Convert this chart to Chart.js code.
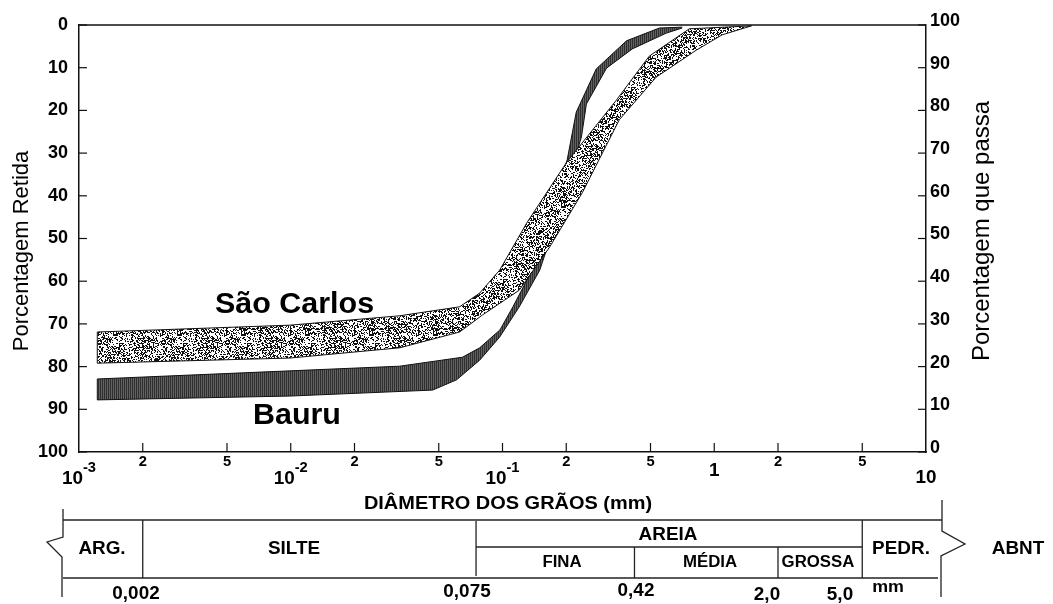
<!DOCTYPE html>
<html>
<head>
<meta charset="utf-8">
<script src="https://cdn.jsdelivr.net/npm/chart.js@4.4.0/dist/chart.umd.min.js"></script>
<style>
  body { margin: 0; background: #fff; }
  #wrap { width: 1053px; height: 604px; position: relative; }
</style>
</head>
<body>
<div id="wrap"><canvas id="chart"></canvas></div>
<script>
// faixas granulométricas: diâmetro (mm) x porcentagem que passa
const scUpperD = [0.00122, 0.00122, 0.0099, 0.0327, 0.0627, 0.078, 0.097, 0.130, 0.200, 0.345, 0.493, 0.762, 1.50];
const scUpperP = [20.8, 28.1, 29.7, 31.9, 34.0, 37.2, 42.6, 53.6, 67.7, 82.4, 92.7, 99.1, 99.8];
const scLowerD = [0.00122, 0.0099, 0.0327, 0.0627, 0.0805, 0.120, 0.167, 0.238, 0.356, 0.532, 0.822, 1.09, 1.50];
const scLowerP = [20.8, 22.0, 24.4, 28.1, 32.1, 37.9, 48.0, 60.7, 77.8, 87.8, 94.1, 97.7, 99.8];

const bauUpperD = [0.00122, 0.00122, 0.0099, 0.0327, 0.0647, 0.078, 0.0973, 0.112, 0.138, 0.150, 0.202, 0.223, 0.277, 0.385, 0.551, 0.706];
const bauUpperP = [12.2, 17.1, 19.0, 20.1, 22.2, 24.4, 28.6, 34.0, 42.6, 48.0, 68.4, 79.6, 89.7, 96.3, 99.3, 99.5];
const bauLowerD = [0.00122, 0.0099, 0.0468, 0.0607, 0.078, 0.0969, 0.120, 0.150, 0.163, 0.236, 0.249, 0.310, 0.410, 0.594, 0.706];
const bauLowerP = [12.2, 13.1, 14.5, 16.9, 21.5, 26.9, 34.0, 42.6, 48.0, 73.8, 81.5, 89.9, 94.4, 98.1, 99.3];

const majorTicks = [0.001, 0.01, 0.1, 1, 10];
const majorBase = ["10", "10", "10", "1", "10"];
const majorExp = ["-3", "-2", "-1", "", ""];
const minorTicks = [0.002, 0.005, 0.02, 0.05, 0.2, 0.5, 2, 5];
const minorLabels = ["2", "5", "2", "5", "2", "5", "2", "5"];

// limites ABNT (mm)
const limitsMm = [0.002, 0.075, 0.42, 2.0, 5.0];
const limitLabels = ["0,002", "0,075", "0,42", "2,0", "5,0"];

const FONT = '"Liberation Sans", Arial, Helvetica, sans-serif';

function pts(d, p) {
  return d.map((v, i) => ({ x: v, y: p[i] }));
}

// textura pontilhada (São Carlos) e hachura escura (Bauru)
function stipple() {
  const c = document.createElement('canvas');
  c.width = 64; c.height = 64;
  const g = c.getContext('2d');
  g.fillStyle = '#fff';
  g.fillRect(0, 0, 64, 64);
  g.fillStyle = '#111';
  let s = 12345;
  for (let i = 0; i < 64 * 64; i++) {
    s = (s * 1103515245 + 12345) & 0x7fffffff;
    if ((s >> 8) % 100 < 42) g.fillRect(i % 64, Math.floor(i / 64), 1, 1);
  }
  return g.createPattern(c, 'repeat');
}
function hatch() {
  const c = document.createElement('canvas');
  c.width = 2; c.height = 2;
  const g = c.getContext('2d');
  g.fillStyle = '#2e2e2e'; g.fillRect(0, 0, 2, 2);
  g.fillStyle = '#626262'; g.fillRect(1, 0, 1, 2);
  return g.createPattern(c, 'repeat');
}

function line(ctx, x1, y1, x2, y2) {
  ctx.beginPath(); ctx.moveTo(x1, y1); ctx.lineTo(x2, y2); ctx.stroke();
}
function poly(ctx, p) {
  ctx.beginPath(); ctx.moveTo(p[0][0], p[0][1]);
  for (let i = 1; i < p.length; i++) ctx.lineTo(p[i][0], p[i][1]);
  ctx.stroke();
}
// texto levemente alargado, como no original
function text(ctx, s, x, y, size, align, weight, stretch) {
  ctx.save();
  ctx.font = (weight || 'bold') + ' ' + size + 'px ' + FONT;
  ctx.textAlign = align || 'center';
  ctx.translate(x, y);
  ctx.scale(stretch || 1.05, 1);
  ctx.fillText(s, 0, 0);
  ctx.restore();
}

const extras = {
  id: 'extras',
  afterDraw(chart) {
    const { ctx, chartArea: a, scales } = chart;
    const sx = scales.x;
    ctx.save();
    ctx.strokeStyle = '#111';
    ctx.fillStyle = '#000';
    ctx.textBaseline = 'alphabetic';

    // topo da moldura
    ctx.lineWidth = 1.5;
    line(ctx, a.left, a.top, a.right, a.top);

    // marcas internas
    ctx.lineWidth = 1.2;
    scales.yRet.ticks.forEach(t => {
      const y = scales.yRet.getPixelForValue(t.value);
      line(ctx, a.left, y, a.left + 8, y);
    });
    scales.yPass.ticks.forEach(t => {
      const y = scales.yPass.getPixelForValue(t.value);
      line(ctx, a.right - 8, y, a.right, y);
    });
    majorTicks.slice(1, -1).concat(minorTicks).forEach(v => {
      const px = sx.getPixelForValue(v);
      line(ctx, px, a.bottom - 9, px, a.bottom);
    });

    // rótulos do eixo x
    majorTicks.forEach((v, i) => {
      const px = sx.getPixelForValue(v);
      if (majorExp[i]) {
        ctx.font = 'bold 18px ' + FONT;
        const wb = ctx.measureText(majorBase[i]).width * 1.05;
        ctx.font = 'bold 14px ' + FONT;
        const we = ctx.measureText(majorExp[i]).width * 1.05;
        const x0 = px - (wb + we) / 2;
        text(ctx, majorBase[i], x0, a.bottom + 32, 18, 'left');
        text(ctx, majorExp[i], x0 + wb, a.bottom + 20, 14, 'left');
      } else {
        text(ctx, majorBase[i], px, a.bottom + (v === 1 ? 24 : 31), 18, 'center');
      }
    });
    minorTicks.forEach((v, i) => {
      text(ctx, minorLabels[i], sx.getPixelForValue(v), a.bottom + 14, 14, 'center');
    });
    text(ctx, 'DIÂMETRO DOS GRÃOS (mm)', 508, 509, 19, 'center');

    // títulos dos eixos y
    ctx.save();
    ctx.translate(22, 251); ctx.rotate(-Math.PI / 2);
    ctx.textBaseline = 'middle';
    text(ctx, 'Porcentagem Retida', 0, 0, 22, 'center', 'normal', 1);
    ctx.restore();
    ctx.save();
    ctx.translate(982, 231); ctx.rotate(-Math.PI / 2);
    ctx.textBaseline = 'middle';
    text(ctx, 'Porcentagem que passa', 0, 0, 24, 'center', 'normal', 1);
    ctx.restore();

    // nomes das faixas
    text(ctx, 'São Carlos', 215, 313, 29, 'left');
    text(ctx, 'Bauru', 253, 424, 29, 'left');

    // quadro ABNT
    const L = limitsMm.map(v => sx.getPixelForValue(v));
    ctx.strokeStyle = '#222';
    ctx.lineWidth = 1.3;
    line(ctx, 63, 520, 942, 520);
    line(ctx, 63, 578, 938, 578);
    poly(ctx, [[63, 509], [63, 537], [47, 542], [62, 557], [62, 597]]);
    poly(ctx, [[942, 500], [942, 531], [965, 544], [941, 556], [941, 597]]);
    line(ctx, L[0], 520, L[0], 578);
    line(ctx, L[1], 521, L[1], 576);
    line(ctx, L[1], 547, L[4], 547);
    line(ctx, L[2], 547, L[2], 578);
    line(ctx, L[3], 547, L[3], 578);
    line(ctx, L[4], 520, L[4], 578);

    text(ctx, 'ARG.', 102, 554, 18, 'center');
    text(ctx, 'SILTE', 294, 554, 18, 'center');
    text(ctx, 'AREIA', 668, 540, 18, 'center');
    text(ctx, 'FINA', 562, 567, 16, 'center');
    text(ctx, 'MÉDIA', 710, 567, 16, 'center');
    text(ctx, 'GROSSA', 818, 567, 16, 'center');
    text(ctx, 'PEDR.', 901, 554, 18, 'center');
    text(ctx, 'ABNT', 1018, 554, 18, 'center');

    const lx = [136, 467, 636, 767, 840];
    const ly = [599, 597, 596, 600, 600];
    limitLabels.forEach((s, i) => text(ctx, s, lx[i], ly[i], 18, 'center'));
    text(ctx, 'mm', 888, 592, 17, 'center');

    ctx.restore();
  }
};

const tickFont = { family: FONT, size: 18, weight: 'bold' };
const edge = { display: true, color: '#111', width: 1.5 };

new Chart(document.getElementById('chart'), {
  type: 'line',
  data: {
    datasets: [
      { label: 'São Carlos sup', data: pts(scUpperD, scUpperP), yAxisID: 'yPass',
        borderColor: '#111', borderWidth: 1, pointRadius: 0, fill: false },
      { label: 'São Carlos inf', data: pts(scLowerD, scLowerP), yAxisID: 'yPass',
        borderColor: '#111', borderWidth: 1, pointRadius: 0, fill: '-1', backgroundColor: stipple() },
      { label: 'Bauru sup', data: pts(bauUpperD, bauUpperP), yAxisID: 'yPass',
        borderColor: '#111', borderWidth: 1, pointRadius: 0, fill: false },
      { label: 'Bauru inf', data: pts(bauLowerD, bauLowerP), yAxisID: 'yPass',
        borderColor: '#111', borderWidth: 1, pointRadius: 0, fill: '-1', backgroundColor: hatch() }
    ]
  },
  options: {
    responsive: true,
    maintainAspectRatio: false,
    animation: false,
    layout: { padding: { top: 25, right: 53, bottom: 0, left: 0 } },
    plugins: { legend: { display: false }, tooltip: { enabled: false } },
    scales: {
      x: {
        type: 'logarithmic', min: 0.001, max: 10,
        ticks: { display: false },
        grid: { display: false, drawTicks: false },
        border: edge,
        afterFit(s) { s.height = 152; }
      },
      yPass: {
        position: 'right', min: 0, max: 100,
        ticks: { stepSize: 10, padding: 4, labelOffset: -4, color: '#000', font: tickFont },
        grid: { display: false, drawTicks: false },
        border: edge,
        afterFit(s) { s.width = 74; }
      },
      yRet: {
        position: 'left', reverse: true, min: 0, max: 100,
        ticks: { stepSize: 10, padding: 11, color: '#000', font: tickFont },
        grid: { display: false, drawTicks: false },
        border: edge,
        afterFit(s) { s.width = 79; }
      }
    }
  },
  plugins: [extras]
});
</script>
</body>
</html>
